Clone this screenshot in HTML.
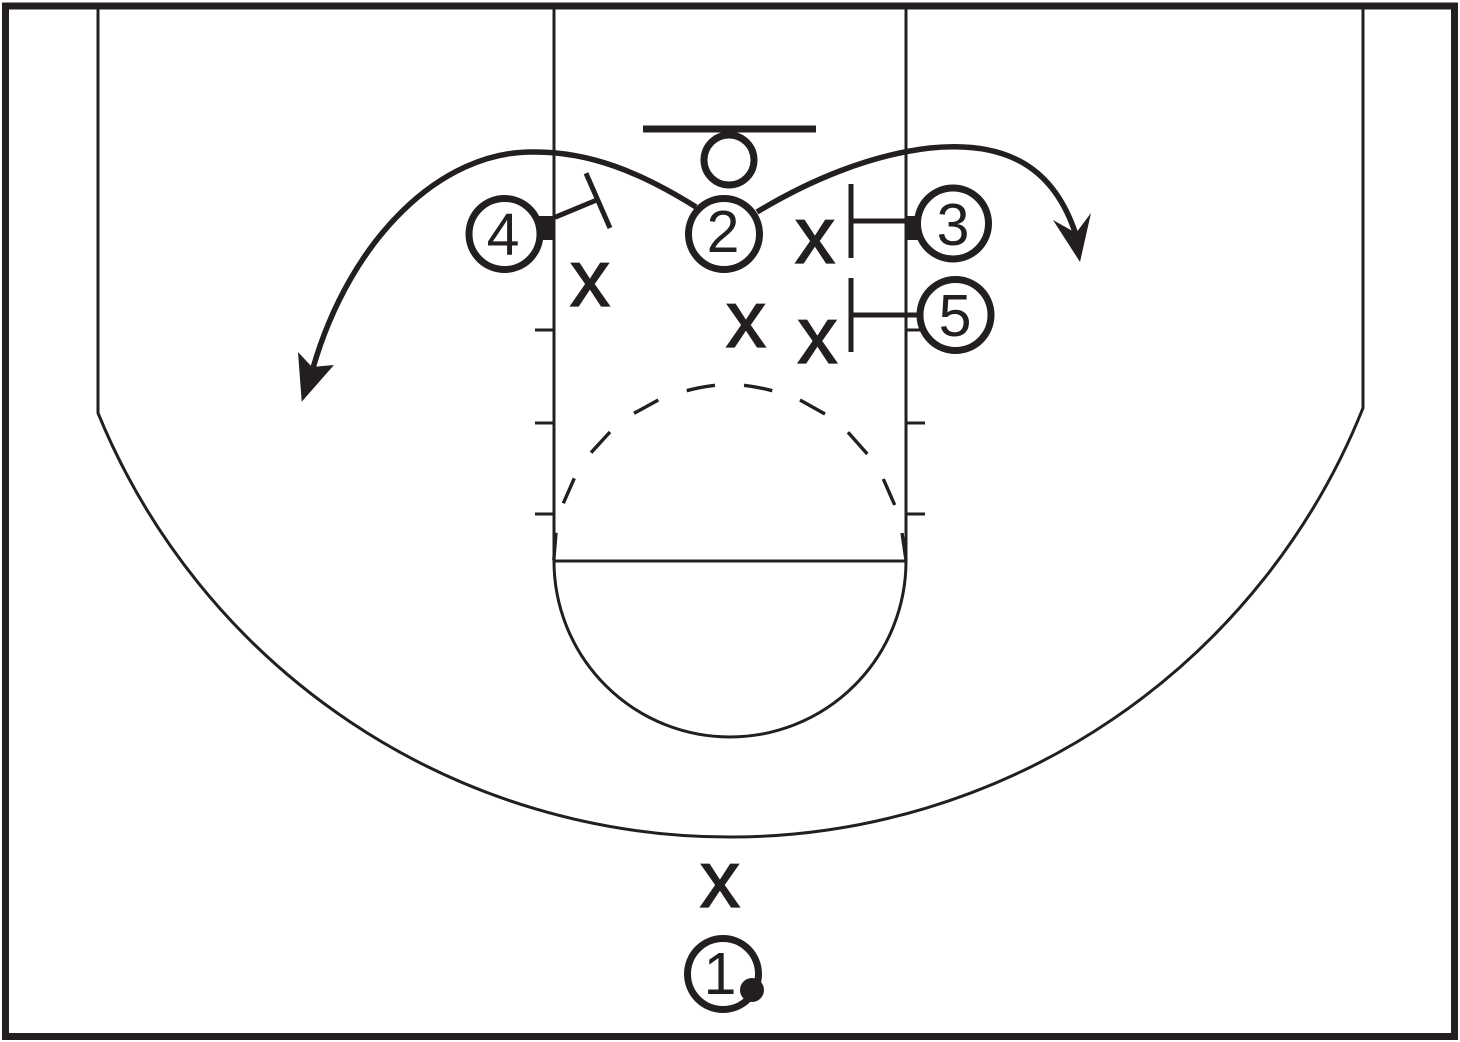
<!DOCTYPE html>
<html>
<head>
<meta charset="utf-8">
<style>
html,body{margin:0;padding:0;background:#fff;width:1460px;height:1042px;overflow:hidden}
svg{display:block}
text{font-family:"Liberation Sans",sans-serif;fill:#231f20;text-anchor:middle}
.x{font-size:81px;stroke:#231f20;stroke-width:1.3px}
.n{font-size:59px}
</style>
</head>
<body>
<svg width="1460" height="1042" viewBox="0 0 1460 1042" xmlns="http://www.w3.org/2000/svg">
<rect width="1460" height="1042" fill="#fff"/>
<g fill="none" stroke="#231f20" stroke-width="3">
  <path d="M98,8V413A682,682 0 0 0 730,837A682,682 0 0 0 1363,408V8"/>
  <path d="M554,8V561M906,8V561M554,561H906"/>
  <path d="M554,561A176,176 0 0 0 906,561"/>
  <path d="M535,330H554M535,423H554M535,514H554M906,330H922M906,423H925M906,514H925"/>
  <path stroke-width="3.4" d="M563.3,503.3L574.3,478.3M591,452.7L610,432M634,413.3L658.3,400M686.7,390.7Q700,387 715,385.3M744,385.3Q758,387 772.3,390.7M800,400L825,414M848,432.3L867.3,454M883.3,479L894.7,505M556,532.7L553.8,560M902,533L906,560"/>
</g>
<rect x="5.5" y="6" width="1449" height="1030.5" fill="none" stroke="#231f20" stroke-width="7"/>
<path d="M643,129H816" stroke="#231f20" stroke-width="7" fill="none"/>
<circle cx="729" cy="160" r="25" fill="#fff" stroke="#231f20" stroke-width="7"/>
<g fill="none" stroke="#231f20" stroke-width="5.5">
  <path d="M696,207C640,172 590,152 535,152C440,150 350,240 313,368"/>
  <path d="M757,212C810,180 870,155 930,148C1010,140 1055,170 1076,235"/>
</g>
<path d="M301.7,401.7L298,352L312,367L334,365Z" fill="#231f20"/>
<path d="M1080,262L1053,220L1076,233L1091,213Z" fill="#231f20"/>
<g fill="none" stroke="#231f20" stroke-width="5">
  <path d="M555,217.3L596.7,200M586,173.3L610,228"/>
  <path d="M851,184V258M851,221H905M851,278V352M851,315H920"/>
</g>
<rect x="539" y="216" width="15" height="24" fill="#231f20"/>
<rect x="905" y="216" width="16" height="24" fill="#231f20"/>
<g fill="#fff" stroke="#231f20" stroke-width="7">
  <circle cx="504.5" cy="234" r="35.5"/>
  <circle cx="724" cy="234" r="35.5"/>
  <circle cx="953" cy="223.5" r="35.5"/>
  <circle cx="955.5" cy="315" r="35.5"/>
  <circle cx="723" cy="974" r="35.5"/>
</g>
<circle cx="752" cy="990" r="12" fill="#231f20"/>
<text class="n" x="503" y="255">4</text>
<text class="n" x="723" y="252">2</text>
<text class="n" x="953" y="245">3</text>
<text class="n" x="955" y="336">5</text>
<text class="n" x="720" y="994">1</text>
<text class="x" x="590" y="306">x</text>
<text class="x" x="815" y="263">x</text>
<text class="x" x="746" y="347">x</text>
<text class="x" x="817.5" y="363">x</text>
<text class="x" x="720" y="907">x</text>
</svg>
</body>
</html>
